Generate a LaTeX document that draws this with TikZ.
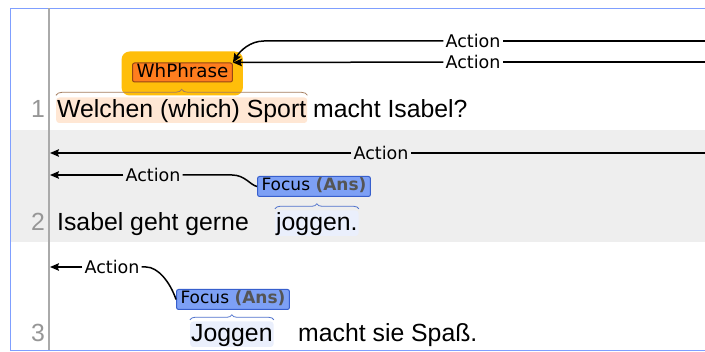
\documentclass[tikz,border=0pt]{standalone}
\usepackage{fontspec}
\setmainfont{Liberation Sans}
\newfontfamily\labfont{DejaVu Sans}
\usetikzlibrary{arrows.meta,decorations.pathreplacing}
\definecolor{frameblue}{RGB}{127,159,255}
\definecolor{rowgray}{RGB}{238,238,238}
\definecolor{sepgray}{RGB}{170,170,170}
\definecolor{numgray}{RGB}{150,150,150}
\definecolor{whglow}{RGB}{255,190,10}
\definecolor{whfill}{RGB}{255,125,30}
\definecolor{whdraw}{RGB}{150,70,20}
\definecolor{hlorange}{RGB}{255,231,212}
\definecolor{bracebrown}{RGB}{165,125,95}
\definecolor{focfill}{RGB}{125,160,245}
\definecolor{focdraw}{RGB}{55,95,205}
\definecolor{ansgray}{RGB}{85,85,85}
\definecolor{hlblue}{RGB}{234,239,252}
\definecolor{braceblue}{RGB}{80,115,205}
\pgfdeclarelayer{bg}
\pgfsetlayers{bg,main}
\begin{document}
\begin{tikzpicture}[x=1pt,y=1pt,
 word/.style={font=\fontsize{24.8}{28}\selectfont, inner sep=0pt, anchor=base west},
 hlword/.style={word, inner xsep=1pt, inner ysep=0pt, text height=20.5pt, text depth=5pt, rounded corners=3pt},
 linenum/.style={font=\fontsize{24.8}{28}\selectfont, text=numgray, inner sep=0pt, anchor=base east},
 lab/.style={font=\labfont\fontsize{17.5}{20}\selectfont, inner xsep=2pt, inner ysep=0pt},
 typebox/.style={inner xsep=4pt, inner ysep=1pt, rounded corners=2pt, line width=1pt},
 arc/.style={line width=1.5pt, black},
 arcto/.style={arc, -{Stealth[length=9pt,width=7.5pt,inset=1.5pt]}},
 spanbrace/.style={decorate, decoration={brace, amplitude=6pt}, line width=0.8pt},
]
\useasboundingbox (0,0) rectangle (705,-352);
\begin{pgfonlayer}{bg}
  \fill[white] (0,0) rectangle (705,-352);
  \fill[rowgray] (10,-130) rectangle (705,-242);
\end{pgfonlayer}
\draw[frameblue, line width=1.5pt] (705,-8.5) -- (10.5,-8.5) -- (10.5,-350.5) -- (705,-350.5);
\draw[sepgray, line width=2.2pt] (48.8,-8.5) -- (48.8,-350);

% row 1
\node[linenum] (n1) at (45,-118) {1};
\node[hlword, fill=hlorange] (w1) at (56,-118) {Welchen (which) Sport};
\node[word] (w2) at ([xshift=5.5pt]w1.base east) {macht Isabel?};
\node[typebox, fill=whfill, draw=whdraw, font=\labfont\fontsize{18.3}{20}\selectfont, text height=13.5pt, text depth=3.5pt] (wh) at (182.5,-72.5) {WhPhrase};
\begin{pgfonlayer}{bg}
  \fill[whglow, rounded corners=8pt] ([shift={(-10.5,11)}]wh.north west) rectangle ([shift={(10,-13)}]wh.south east);
\end{pgfonlayer}
\draw[spanbrace, bracebrown] ([yshift=2pt]w1.north west) -- ([yshift=2pt]w1.north east);
\coordinate (e1) at (705,-41);
\coordinate (e2) at (705,-62);
\node[lab] (a1) at (473,-41) {Action};
\node[lab] (a2) at (473,-62) {Action};
\draw[arc] (e1) -- (a1);
\draw[arcto] (a1) -- (264,-41) .. controls (250,-41) and (240,-51) .. (wh.north east);
\draw[arc] (e2) -- (a2);
\draw[arcto] (a2) -- (wh.north east);

% row 2
\node[linenum] (n2) at (45,-231) {2};
\node[word] (i2) at (57,-231) {Isabel geht gerne};
\node[hlword, fill=hlblue] (j2) at (275,-231) {joggen.};
\node[typebox, fill=focfill, draw=focdraw, font=\labfont\fontsize{17}{20}\selectfont, text height=13.5pt, text depth=4.5pt] (f2) at (314,-186.5) {Focus \textcolor{ansgray}{\bfseries (Ans)}};
\draw[spanbrace, braceblue, decoration={amplitude=5pt}] ([yshift=1.5pt]j2.north west) -- ([yshift=1.5pt]j2.north east);
\coordinate (t21) at (50,-153);
\coordinate (t22) at (50,-175);
\coordinate (e3) at (705,-153);
\node[lab] (b1) at (381,-153) {Action};
\draw[arc] (e3) -- (b1);
\draw[arcto] (b1) -- (t21);
\node[lab] (b2) at (153,-175) {Action};
\draw[arcto] (b2) -- (t22);
\draw[arc] (b2) -- (232,-175) .. controls (245,-175) and (250,-185) .. (f2.west);

% row 3
\node[linenum] (n3) at (45,-342) {3};
\node[hlword, fill=hlblue] (j3) at (190,-342) {Joggen};
\node[word] (m3) at (298,-342) {macht sie Spaß.};
\node[typebox, fill=focfill, draw=focdraw, font=\labfont\fontsize{17}{20}\selectfont, text height=13.5pt, text depth=4.5pt] (f3) at (233,-299.5) {Focus \textcolor{ansgray}{\bfseries (Ans)}};
\draw[spanbrace, braceblue, decoration={amplitude=5pt}] ([yshift=1.5pt]j3.north west) -- ([yshift=1.5pt]j3.north east);
\coordinate (t3) at (50,-267);
\node[lab] (c1) at (112,-267) {Action};
\draw[arcto] (c1) -- (t3);
\draw[arc] (c1) -- (146,-267) .. controls (158,-267) and (170,-282) .. (f3.west);
\end{tikzpicture}
\end{document}
